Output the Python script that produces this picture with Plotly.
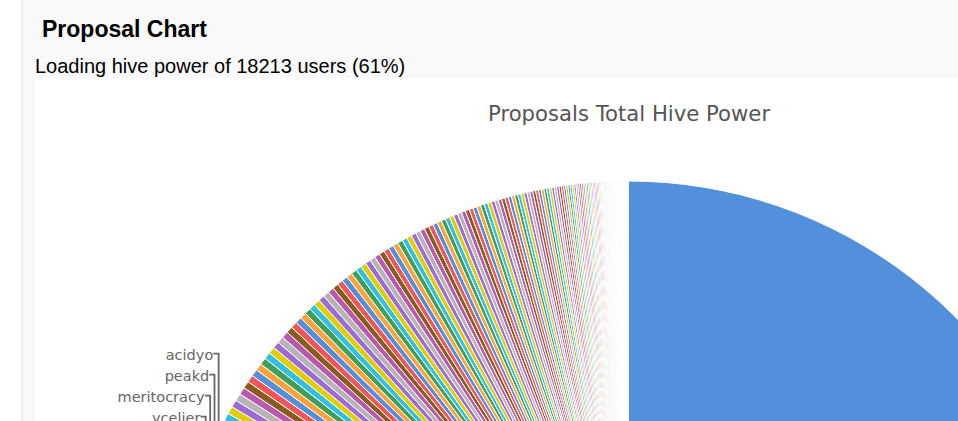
import plotly.graph_objects as go

# ---------------- data (hive power, thousands HP, read/estimated from the picture) -------------
labeled_names = ["blocktrades", "gtg", "roelandp", "themarkymark", "theycallmedan", "ausbitbank",
                 "good-karma", "arcange", "smooth", "tarazkp", "taskmaster4450", "abit",
                 "yabapmatt", "ecency", "leofinance", "threespeak", "anyx", "someguy123",
                 "ycelier", "meritocracy", "peakd", "acidyo"]
labeled_hp = [151200, 35000, 24000, 18000, 14000, 10500, 8000, 6000, 4600, 3800, 3200, 2800,
              2500, 2200, 2000, 1800, 1650, 1500, 1400, 1300, 1200, 1100]

other_hp = [970, 960, 950, 940, 930, 920, 915, 910, 900, 890, 880, 870, 860, 850, 845, 835, 830,
            820, 810, 800, 795, 790, 780, 770, 765, 755, 750, 740, 735, 725, 720, 710, 705, 700,
            690, 685, 675, 670, 665, 655, 650, 640, 630, 620, 610, 600, 595, 585, 575, 570, 560,
            550, 540, 535, 525, 520, 510, 500, 495, 485, 480, 470, 460, 455, 445, 440, 430, 425,
            415, 410, 400, 395, 390, 380, 375, 370, 360, 355, 350, 345, 335, 330, 320, 310, 305,
            300, 290, 285, 275, 270, 260, 255, 250, 240, 235, 230, 220, 215, 210, 205, 200, 190,
            185, 180, 175, 170, 165, 160]

tail_hp = [150, 140, 130, 120, 110, 100, 100, 90, 90, 80, 80, 70, 70, 70, 60, 60, 60, 50, 50, 50,
           50, 40, 40, 40, 40, 40, 30, 30, 30, 30, 30, 30,
           20, 20, 20, 20, 20, 20, 20, 20, 20, 20, 20, 20, 20, 20, 20, 20, 20, 20, 20, 20, 20,
           20, 20, 20, 20, 20, 20, 20, 20, 20, 20, 20, 20, 20, 20, 20, 20, 20, 20, 20, 20, 20,
           20, 20, 20, 20, 20, 20, 20, 20, 20, 20, 20, 20, 20, 20, 20, 20, 20, 20, 20, 20, 20,
           20, 20, 20, 20, 20, 20, 20, 20, 20, 20, 20, 20, 20, 20, 20, 20, 20, 20, 20, 20]

palette = ["#5290dc", "#ffa23a", "#3f9f5a", "#31c0e3", "#e2ce00",
           "#9d6bd6", "#b5b5b5", "#ba58b0", "#8b5a1f", "#f25555"]

header_title = "Proposal Chart"
status_text = "Loading hive power of 18213 users (61%)"
chart_title = "Proposals Total Hive Power"

values = labeled_hp + other_hp + tail_hp
# a taller spacer gives each outside label the line box (~20px) seen in the picture
slice_text = ["<span style='font-size:18px'>\u00a0</span>" + n for n in labeled_names]

# ---------------- layout geometry (pixels) -------------
W, H = 1100, 1110
cx, cy, r = 628.5, 642.0, 461.0


def fx(px):
    return px / W


def fy(py):
    return 1 - py / H


fig = go.Figure()
fig.add_trace(go.Pie(
    values=values,
    text=slice_text,
    textinfo="text",
    textposition="outside",
    sort=False,
    direction="clockwise",
    rotation=0,
    automargin=False,
    marker=dict(line=dict(color="white", width=1)),
    outsidetextfont=dict(family="DejaVu Sans", size=14.5, color="#666666"),
    domain=dict(x=[fx(cx - r), fx(cx + r)], y=[fy(cy + r), fy(cy - r)]),
    showlegend=False,
    hoverinfo="value+percent",
))

fig.update_layout(
    width=W, height=H,
    margin=dict(l=0, r=0, t=0, b=0, autoexpand=False),
    paper_bgcolor="white",
    piecolorway=palette,
    extendpiecolors=False,
    shapes=[
        dict(type="rect", xref="paper", yref="paper", x0=fx(22.5), x1=1, y0=fy(78), y1=1,
             fillcolor="#f9f9f9", line=dict(width=0), layer="below"),
        dict(type="rect", xref="paper", yref="paper", x0=fx(22.5), x1=fx(35), y0=0, y1=1,
             fillcolor="#f9f9f9", line=dict(width=0), layer="below"),
        dict(type="line", xref="paper", yref="paper", x0=fx(22), x1=fx(22), y0=0, y1=1,
             line=dict(color="#dedede", width=1), layer="below"),
    ],
    annotations=[
        dict(text="<b>" + header_title + "</b>", xref="paper", yref="paper",
             x=fx(40), y=fy(29.5), xanchor="left", yanchor="middle", showarrow=False,
             font=dict(family="Liberation Sans, Arial", size=23, color="#000000")),
        dict(text=status_text, xref="paper", yref="paper",
             x=fx(33), y=fy(66.3), xanchor="left", yanchor="middle", showarrow=False,
             font=dict(family="Liberation Sans, Arial", size=20, color="#000000")),
        dict(text=chart_title, xref="paper", yref="paper",
             x=fx(628.5), y=fy(113.5), xanchor="center", yanchor="middle", showarrow=False,
             font=dict(family="DejaVu Sans", size=21.2, color="#555555")),
    ],
)

# the page shows only the top-left part of the (larger) chart, flush with the window edge
page_js = """
document.documentElement.style.overflow = 'hidden';
document.body.style.margin = '0';
document.body.style.overflow = 'hidden';
"""

fig.write_html("out.html", post_script=page_js)
